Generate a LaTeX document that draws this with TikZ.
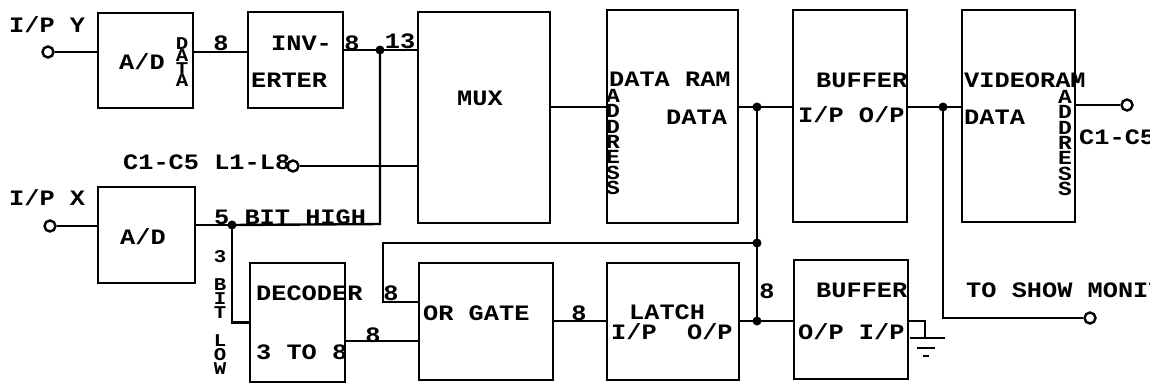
\documentclass[tikz,border=0pt]{standalone}
\usepackage{fontspec}
\newfontfamily\plotfont[FakeStretch=1.15]{Liberation Mono}
\begin{document}
\begin{tikzpicture}[x=1pt,y=-1pt,line width=2.4pt,
  blk/.style={draw,line width=2.4pt,inner sep=0pt},
  lbl/.style={font=\plotfont\bfseries\fontsize{22}{22}\selectfont,inner sep=0pt},
  vlbl/.style={font=\plotfont\bfseries\fontsize{20}{15.4}\selectfont,inner sep=0pt,align=center},
  vsml/.style={font=\plotfont\bfseries\fontsize{18}{12.5}\selectfont,inner sep=0pt,align=center},
  vlow/.style={font=\plotfont\bfseries\fontsize{18}{14}\selectfont,inner sep=0pt,align=center},
  term/.style={draw,circle,line width=2.4pt,minimum size=11pt,inner sep=0pt,fill=white},
  jdot/.style={circle,fill,minimum size=9pt,inner sep=0pt}]
\fill[white] (0,0) rectangle (1150,389);
\useasboundingbox (0,0) rectangle (1150,389);
% blocks
\node[blk,minimum width=95pt,minimum height=95pt] (adY) at (145.5,60.5) {};
\node[blk,minimum width=95pt,minimum height=96pt] (inv) at (295.5,60) {};
\node[blk,minimum width=97pt,minimum height=96pt] (adX) at (146.5,235) {};
\node[blk,minimum width=132pt,minimum height=211pt] (mux) at (484,117.5) {};
\node[blk,minimum width=131pt,minimum height=213pt] (ram) at (672.5,116.5) {};
\node[blk,minimum width=114pt,minimum height=212pt] (buf1) at (850,116) {};
\node[blk,minimum width=113pt,minimum height=212pt] (vram) at (1018.5,116) {};
\node[blk,minimum width=95pt,minimum height=119pt] (dec) at (297.5,322.5) {};
\node[blk,minimum width=134pt,minimum height=117pt] (orb) at (486,321.5) {};
\node[blk,minimum width=132pt,minimum height=117pt] (latch) at (673,321.5) {};
\node[blk,minimum width=114pt,minimum height=119pt] (buf2) at (851,319.5) {};
% terminals
\node[term] (cY) at (48,52) {};
\node[term] (cX) at (50,226) {};
\node[term] (cC) at (293,166) {};
\node[term] (cA) at (1127,105) {};
\node[term] (cM) at (1090,318) {};
% junction points
\coordinate (jY) at (380,50);
\coordinate (jH) at (380,224);
\coordinate (jX) at (232,225);
\coordinate (jR) at (757,107);
\coordinate (jO) at (757,243);
\coordinate (jL) at (757,321);
\coordinate (oT) at (383,243);
\coordinate (oB) at (383,302);
\coordinate (dO) at (373,341);
\coordinate (jV) at (943,107);
\coordinate (gT) at (925,321);
\coordinate (gB) at (925,338);
\coordinate (g1l) at (910,338); \coordinate (g1r) at (945,338);
\coordinate (g2l) at (917,348); \coordinate (g2r) at (935,348);
\coordinate (g3l) at (923,356); \coordinate (g3r) at (929,356);
% wires
\draw (cY) -- (cY -| adY.west);
\draw (adY.east |- cY) -- (inv.west |- cY);
\draw (inv.east |- jY) -- (jY -| mux.west);
\draw (jY) -- (jH) -- (jX);
\draw (cX) -- (cX -| adX.west);
\draw (adX.east |- jX) -- (jX);
\draw (jX) |- (dec.west);
\draw (cC) -- (cC -| mux.west);
\draw (mux.east |- jR) -- (jR -| ram.west);
\draw (ram.east |- jR) -- (jR -| buf1.west);
\draw (jR) -- (jL);
\draw (jO) -- (oT) -- (oB) -- (oB -| orb.west);
\draw (dec.east |- dO) -- (dO -| orb.west);
\draw (orb.east |- jL) -- (jL -| latch.west);
\draw (latch.east |- jL) -- (jL -| buf2.west);
\draw (buf2.east |- jL) -- (gT) -- (gB);
\draw[line width=2pt] (g1l) -- (g1r);
\draw[line width=2pt] (g2l) -- (g2r);
\draw[line width=2pt] (g3l) -- (g3r);
\draw (buf1.east |- jV) -- (jV -| vram.west);
\draw (jV) |- (cM);
\draw (vram.east |- cA) -- (cA);
% dots
\node[jdot] (dY) at (jY) {};
\node[jdot] (dX) at (jX) {};
\node[jdot] (dR) at (jR) {};
\node[jdot] (dO2) at (jO) {};
\node[jdot] (dL) at (jL) {};
\node[jdot] (dV) at (jV) {};
% texts
\node[lbl,anchor=west] (tIPY) at (8,25) {I/P Y};
\node[lbl] (tADY) at (142,62) {A/D};
\node[vsml] (tDATAY) at (182,62) {D\\A\\T\\A};
\node[lbl,anchor=west] (tINV) at (270,43) {INV-};
\node[lbl,anchor=west] (tERTER) at (250,80) {ERTER};
\node[lbl] (n8a) at (221,43) {8};
\node[lbl] (n8b) at (352,43) {8};
\node[lbl] (n13) at (400,41) {13};
\node[lbl] (tMUX) at (480,98) {MUX};
\node[lbl,anchor=west] (tCL) at (122,162) {C1-C5 L1-L8};
\node[lbl,anchor=west] (tIPX) at (8,198) {I/P X};
\node[lbl] (tADX) at (143,237) {A/D};
\node[lbl,anchor=west] (t5BH) at (213,217) {5 BIT HIGH};
\node[vlow] (t3BL) at (220,312) {3\\[14pt]B\\I\\T\\[14pt]L\\O\\W};
\node[lbl,anchor=west] (tDEC) at (255,293) {DECODER};
\node[lbl,anchor=west] (t3TO8) at (255,352) {3 TO 8};
\node[lbl] (n8c) at (373,335) {8};
\node[lbl] (n8d) at (391,293) {8};
\node[lbl,anchor=west] (tOR) at (422,313) {OR GATE};
\node[lbl] (n8e) at (579,313) {8};
\node[lbl,anchor=west] (tLATCH) at (628,312) {LATCH};
\node[lbl,anchor=west] (tLIO) at (610,332) {I/P~~O/P};
\node[lbl] (n8f) at (767,291) {8};
\node[lbl,anchor=west] (tDRAM) at (608,79) {DATA RAM};
\node[vlbl] (tADDR1) at (613,142) {A\\D\\D\\R\\E\\S\\S};
\node[lbl,anchor=west] (tDATA1) at (665,117) {DATA};
\node[lbl,anchor=west] (tBUF1) at (815,80) {BUFFER};
\node[lbl,anchor=west] (tIO1) at (797,115) {I/P O/P};
\node[lbl,anchor=west] (tVRAM) at (963,80) {VIDEORAM};
\node[lbl,anchor=west] (tDATA2) at (963,117) {DATA};
\node[vlbl] (tADDR2) at (1065,143) {A\\D\\D\\R\\E\\S\\S};
\node[lbl,anchor=west] (tC15) at (1078,137) {C1-C5};
\node[lbl,anchor=west] (tBUF2) at (815,290) {BUFFER};
\node[lbl,anchor=west] (tOI2) at (797,332) {O/P I/P};
\node[lbl,anchor=west] (tMON) at (965,290) {TO SHOW MONIT};
\end{tikzpicture}
\end{document}
